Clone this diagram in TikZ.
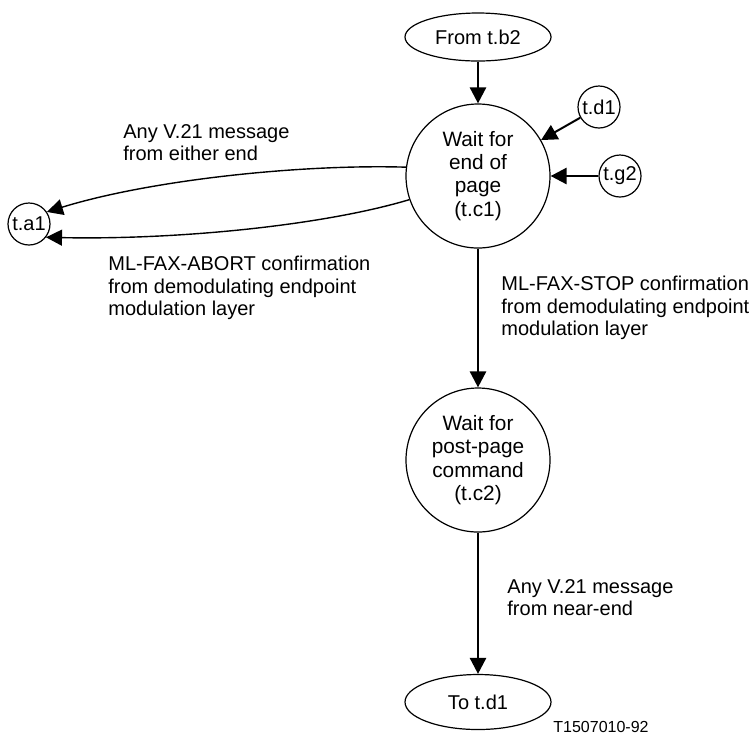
\documentclass[tikz,border=0pt]{standalone}
\usepackage{fontspec}
\setmainfont{Liberation Sans}
\usetikzlibrary{arrows.meta,shapes.geometric}

\begin{document}
\begin{tikzpicture}[x=0.5pt,y=-0.5pt,
		font=\fontsize{10}{11.5}\selectfont,
		state/.style={draw,circle,line width=0.6pt,minimum size=72pt,inner sep=0pt,align=center,font=\fontsize{10.4}{11.6}\selectfont},
		ref/.style={draw,circle,line width=0.6pt,minimum size=21pt,inner sep=0pt},
		term/.style={draw,ellipse,line width=0.6pt,minimum width=73pt,inner sep=0pt},
		lbl/.style={anchor=west,align=left,inner sep=0pt,font=\fontsize{10}{11.3}\selectfont},
		flow/.style={-{Triangle[length=8pt,width=8pt]},line width=1.3pt},
		curve/.style={-{Triangle[length=8pt,width=8pt]},line width=0.7pt}]
\useasboundingbox (0,0) rectangle (753,736);
\node[term,minimum height=24pt] (fromb2) at (478,37) {From t.b2};
\node[state] (tc1) at (478,176) {Wait for\\end of\\page\\(t.c1)};
\node[ref] (td1) at (599,107) {t.d1};
\node[ref] (tg2) at (620,176) {t.g2};
\node[ref] (ta1) at (29,224) {t.a1};
\node[state] (tc2) at (478,460) {Wait for\\post-page\\command\\(t.c2)};
\node[term,minimum height=27.5pt] (totd1) at (478,702) {To t.d1};

\draw[flow] (fromb2) -- (tc1);
\draw[flow,line width=1pt] (td1) -- (tc1);
\draw[flow] (tg2) -- (tc1);
\draw[curve] (tc1.173) .. controls (300,164) and (150,180) .. (ta1.34);
\draw[curve] (tc1.199) .. controls (325,225) and (180,240) .. (ta1.-38);
\draw[flow] (tc1) -- (tc2);
\draw[flow] (tc2) -- (totd1);

\node[lbl] (lv21) at (123,142.5) {Any V.21 message\\from either end};
\node[lbl] (labort) at (108,288) {ML-FAX-ABORT confirmation\\from demodulating endpoint\\modulation layer};
\node[lbl] (lstop) at (501,308) {ML-FAX-STOP confirmation\\from demodulating endpoint\\modulation layer};
\node[lbl] (lnear) at (507,597.5) {Any V.21 message\\from near-end};
\node[lbl,font=\fontsize{8}{9}\selectfont] (fig) at (553,727) {T1507010-92};
\end{tikzpicture}
\end{document}
